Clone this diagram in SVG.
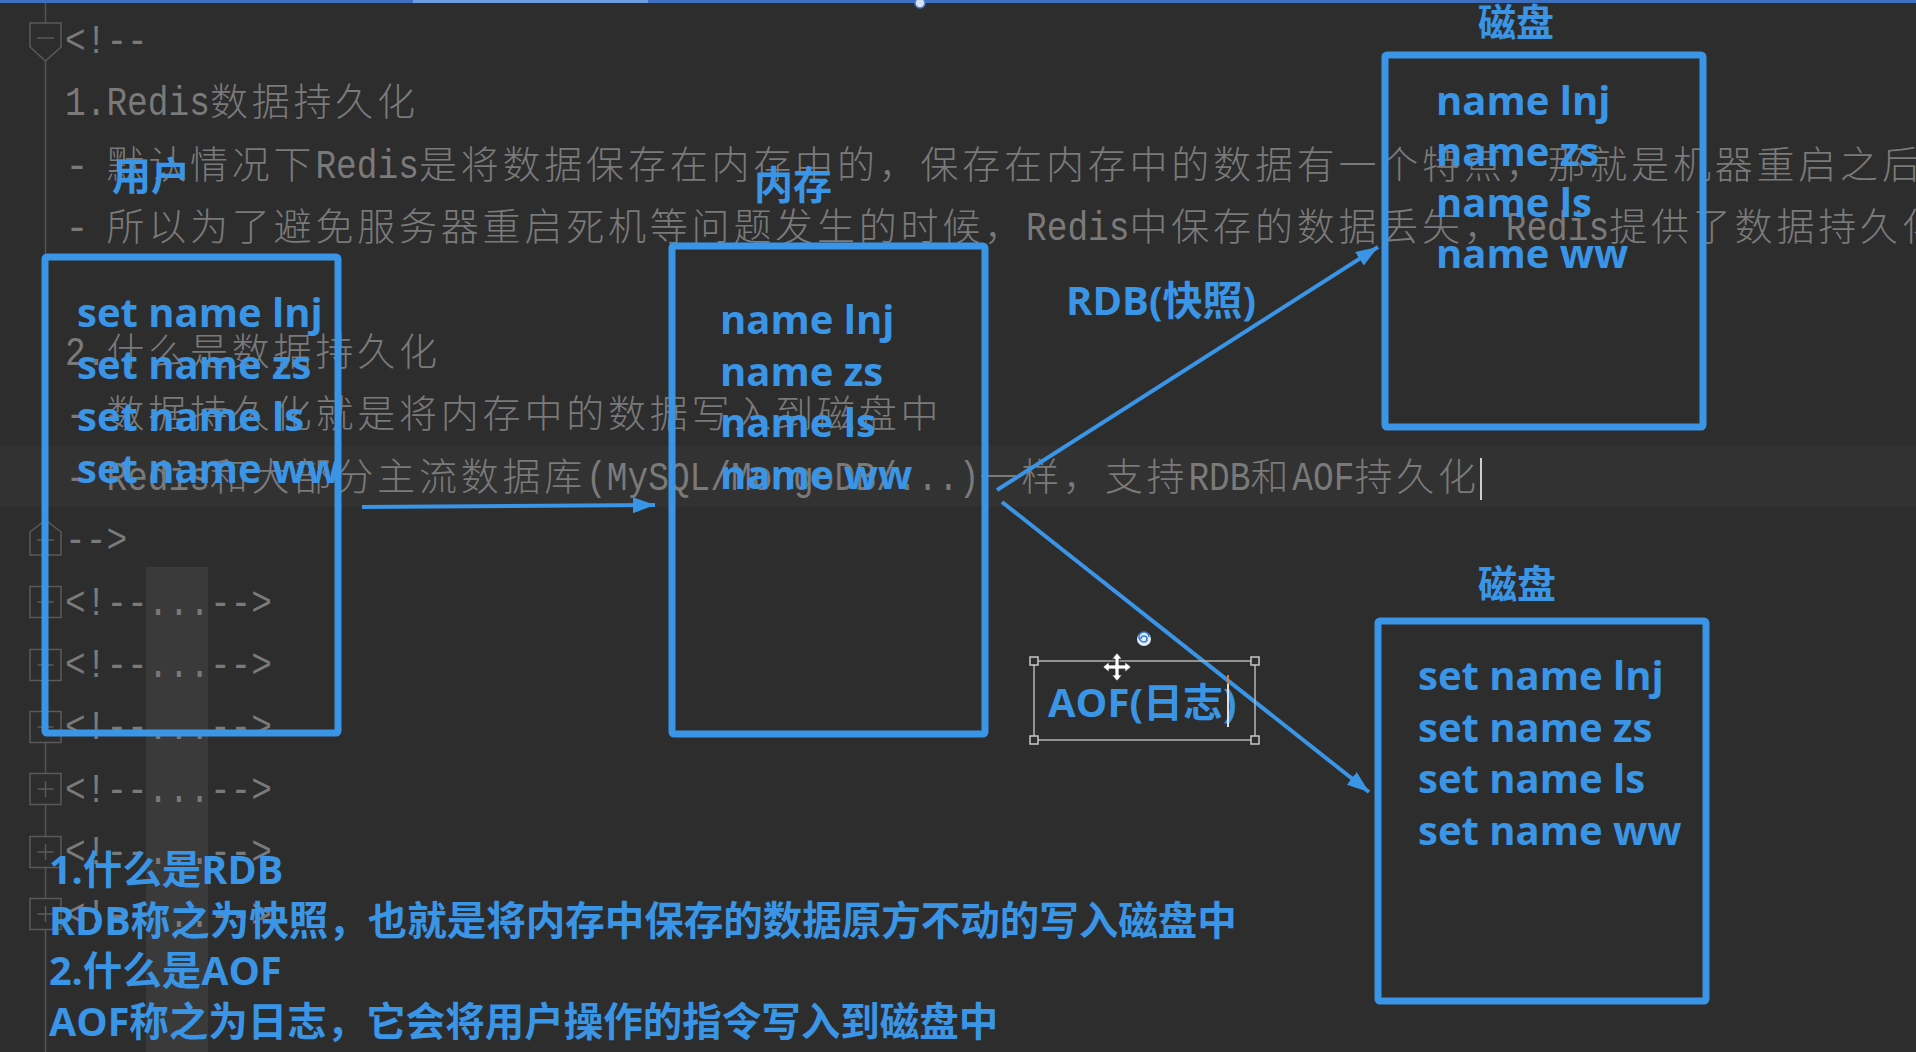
<svg xmlns="http://www.w3.org/2000/svg" width="1916" height="1052" viewBox="0 0 1916 1052">
<style>
.m{font-family:"Liberation Mono",monospace;font-size:40px;fill:#7a7a7a}
.k{font-family:"Noto Sans CJK SC",sans-serif;font-size:38px;font-weight:300;letter-spacing:3.8px;fill:#7a7a7a}
.b{font-family:"Open Sans","Noto Sans CJK SC",sans-serif;font-weight:700;fill:#3a95e6}
.t{font-size:40px}
.h{font-size:39px}
.n{font-size:39.5px}
.box{fill:none;stroke:#3a95e6;stroke-width:7;stroke-linejoin:round}
.con{stroke:#3a95e6;stroke-width:4;fill:none;marker-end:url(#ah)}
.fold{fill:#2d2d2d;stroke:#5a5a5a;stroke-width:1.5}
.hnd{fill:#2d2d2d;stroke:#c8c8c8;stroke-width:1.5}
</style>
<defs>
<marker id="ah" markerUnits="userSpaceOnUse" markerWidth="26" markerHeight="20" refX="22" refY="10" orient="auto">
<path d="M0,2 L22,10 L0,18 Z" fill="#3a95e6"/>
</marker>
<g id="plus"><rect class="fold" x="-15.5" y="-15.5" width="31" height="31"/><path d="M-8,0 H8 M0,-8 V8" stroke="#5a5a5a" stroke-width="1.5"/></g>
</defs>

<g id="editor">
<rect x="0" y="0" width="1916" height="1052" fill="#2d2d2d"/>
<rect x="0" y="446" width="1916" height="61" fill="#323232"/>
<rect x="146" y="567" width="62" height="485" fill="#3a3a3a"/>
<rect x="0" y="0" width="1916" height="3" fill="#3f6fbf"/>
<rect x="413" y="0" width="235" height="3" fill="#6f9be0"/>
<circle cx="920" cy="3" r="5" fill="#d6e0f2" stroke="#4a7bd0" stroke-width="1.5"/>
<line x1="45.5" y1="3" x2="45.5" y2="1052" stroke="#555" stroke-width="1.5"/>
<path class="fold" d="M30,23 H61 V47 L45.5,61 L30,47 Z"/>
<path d="M37,38 H54" stroke="#5a5a5a" stroke-width="1.5"/>
<path class="fold" d="M30,555 V532 L45.5,520 L61,532 V555 Z"/>
<path d="M37,540 H54" stroke="#5a5a5a" stroke-width="1.5"/>
<use href="#plus" x="45.5" y="602"/>
<use href="#plus" x="45.5" y="665"/>
<use href="#plus" x="45.5" y="727"/>
<use href="#plus" x="45.5" y="789"/>
<use href="#plus" x="45.5" y="852"/>
<use href="#plus" x="45.5" y="914"/>

<text class="m" x="65" y="53" textLength="82.8" lengthAdjust="spacingAndGlyphs">&lt;!--</text>

<text class="m" x="65" y="115.4" textLength="144.9" lengthAdjust="spacingAndGlyphs">1.Redis</text>
<text class="k" x="209.9" y="115.4">数据持久化</text>

<text class="m" x="65" y="177.8">-</text>
<text class="k" x="106.4" y="177.8">默认情况下</text>
<text class="m" x="315.4" y="177.8" textLength="103.5" lengthAdjust="spacingAndGlyphs">Redis</text>
<text class="k" x="418.9" y="177.8">是将数据保存在内存中的，保存在内存中的数据有一个特点，那就是机器重启之后</text>

<text class="m" x="65" y="240.2">-</text>
<text class="k" x="106.4" y="240.2">所以为了避免服务器重启死机等问题发生的时候，</text>
<text class="m" x="1026" y="240.2" textLength="103.5" lengthAdjust="spacingAndGlyphs">Redis</text>
<text class="k" x="1129.5" y="240.2">中保存的数据丢失，</text>
<text class="m" x="1505.7" y="240.2" textLength="103.5" lengthAdjust="spacingAndGlyphs">Redis</text>
<text class="k" x="1609.2" y="240.2">提供了数据持久化</text>

<text class="m" x="65" y="365" textLength="41.4" lengthAdjust="spacingAndGlyphs">2.</text>
<text class="k" x="106.4" y="365">什么是数据持久化</text>

<text class="m" x="65" y="427.4">-</text>
<text class="k" x="106.4" y="427.4">数据持久化就是将内存中的数据写入到磁盘中</text>

<text class="m" x="65" y="489.8">-</text>
<text class="m" x="106.4" y="489.8" textLength="103.5" lengthAdjust="spacingAndGlyphs">Redis</text>
<text class="k" x="209.9" y="489.8">和大部分主流数据库</text>
<text class="m" x="586.1" y="489.8" textLength="393.3" lengthAdjust="spacingAndGlyphs">(MySQL/MongoDB/...)</text>
<text class="k" x="979.4" y="489.8">一样，支持</text>
<text class="m" x="1188.4" y="489.8" textLength="62.1" lengthAdjust="spacingAndGlyphs">RDB</text>
<text class="k" x="1250.5" y="489.8">和</text>
<text class="m" x="1292.3" y="489.8" textLength="62.1" lengthAdjust="spacingAndGlyphs">AOF</text>
<text class="k" x="1354.4" y="489.8">持久化</text>
<line x1="1481" y1="458" x2="1481" y2="500" stroke="#cfcfcf" stroke-width="2"/>

<text class="m" x="65" y="552.2" textLength="62.1" lengthAdjust="spacingAndGlyphs">--&gt;</text>

<text class="m" x="65" y="614.6" textLength="207" lengthAdjust="spacingAndGlyphs">&lt;!--...--&gt;</text>
<text class="m" x="65" y="677" textLength="207" lengthAdjust="spacingAndGlyphs">&lt;!--...--&gt;</text>
<text class="m" x="65" y="739.4" textLength="207" lengthAdjust="spacingAndGlyphs">&lt;!--...--&gt;</text>
<text class="m" x="65" y="801.8" textLength="207" lengthAdjust="spacingAndGlyphs">&lt;!--...--&gt;</text>
<text class="m" x="65" y="864.2" textLength="207" lengthAdjust="spacingAndGlyphs">&lt;!--...--&gt;</text>
<text class="m" x="65" y="926.6" textLength="207" lengthAdjust="spacingAndGlyphs">&lt;!--...--&gt;</text>
</g>

<g id="node-user">
<rect class="box" x="45" y="257" width="293" height="476" rx="2"/>
<text class="b h" x="112" y="190">用户</text>
<text class="b t" x="77" y="327">set name lnj</text>
<text class="b t" x="77" y="379">set name zs</text>
<text class="b t" x="77" y="431">set name ls</text>
<text class="b t" x="77" y="483">set name ww</text>
</g>

<g id="node-memory">
<rect class="box" x="672" y="246" width="313" height="488" rx="2"/>
<text class="b h" x="754" y="199">内存</text>
<text class="b t" x="720" y="334">name lnj</text>
<text class="b t" x="720" y="386">name zs</text>
<text class="b t" x="720" y="437">name ls</text>
<text class="b t" x="720" y="489">name ww</text>
</g>

<g id="node-disk-rdb">
<rect class="box" x="1385" y="55" width="318" height="372" rx="2"/>
<text class="b" style="font-size:38px" x="1478" y="36">磁盘</text>
<text class="b t" x="1436" y="115">name lnj</text>
<text class="b t" x="1436" y="166">name zs</text>
<text class="b t" x="1436" y="217">name ls</text>
<text class="b t" x="1436" y="268">name ww</text>
</g>

<g id="node-disk-aof">
<rect class="box" x="1378" y="621" width="328" height="380" rx="2"/>
<text class="b h" x="1478" y="598">磁盘</text>
<text class="b t" x="1418" y="690">set name lnj</text>
<text class="b t" x="1418" y="742">set name zs</text>
<text class="b t" x="1418" y="793">set name ls</text>
<text class="b t" x="1418" y="845">set name ww</text>
</g>

<g id="connectors">
<line class="con" x1="362" y1="507" x2="655" y2="505"/>
<line class="con" x1="997" y1="490" x2="1378" y2="247"/>
<line class="con" x1="1002" y1="502" x2="1369" y2="792"/>
</g>

<g id="label-rdb">
<text class="b t" x="1066" y="315">RDB(快照)</text>
</g>

<g id="label-aof">
<rect x="1034" y="661" width="221" height="79" fill="none" stroke="#b4b4b4" stroke-width="1.5"/>
<rect class="hnd" x="1030" y="657" width="8" height="8"/>
<rect class="hnd" x="1251" y="657" width="8" height="8"/>
<rect class="hnd" x="1030" y="736" width="8" height="8"/>
<rect class="hnd" x="1251" y="736" width="8" height="8"/>
<text class="b t" x="1048" y="717">AOF(日志)</text>
<line x1="1228" y1="675" x2="1228" y2="727" stroke="#e0e0e0" stroke-width="2"/>
<line x1="1228" y1="675" x2="1228" y2="684" stroke="#e07a2a" stroke-width="2"/>
<circle cx="1144" cy="639" r="7" fill="#e4ecf8"/>
<path d="M1144,639 m-3,0 a3,3 0 1,1 3,3 a5,5 0 1,1 5,-5" fill="none" stroke="#3a7fd8" stroke-width="1.6"/>
<path d="M1117,653 L1122,659 H1119 V665 H1125 V662 L1131,667 L1125,672 V669 H1119 V675 H1122 L1117,681 L1112,675 H1115 V669 H1109 V672 L1103,667 L1109,662 V665 H1115 V659 H1112 Z" fill="#ffffff" stroke="#333" stroke-width="0.8"/>
</g>

<g id="notes">
<text class="b n" x="49" y="884">1.什么是RDB</text>
<text class="b n" x="49" y="935">RDB称之为快照，也就是将内存中保存的数据原方不动的写入磁盘中</text>
<text class="b n" x="49" y="985">2.什么是AOF</text>
<text class="b n" x="49" y="1036">AOF称之为日志，它会将用户操作的指令写入到磁盘中</text>
</g>
</svg>
